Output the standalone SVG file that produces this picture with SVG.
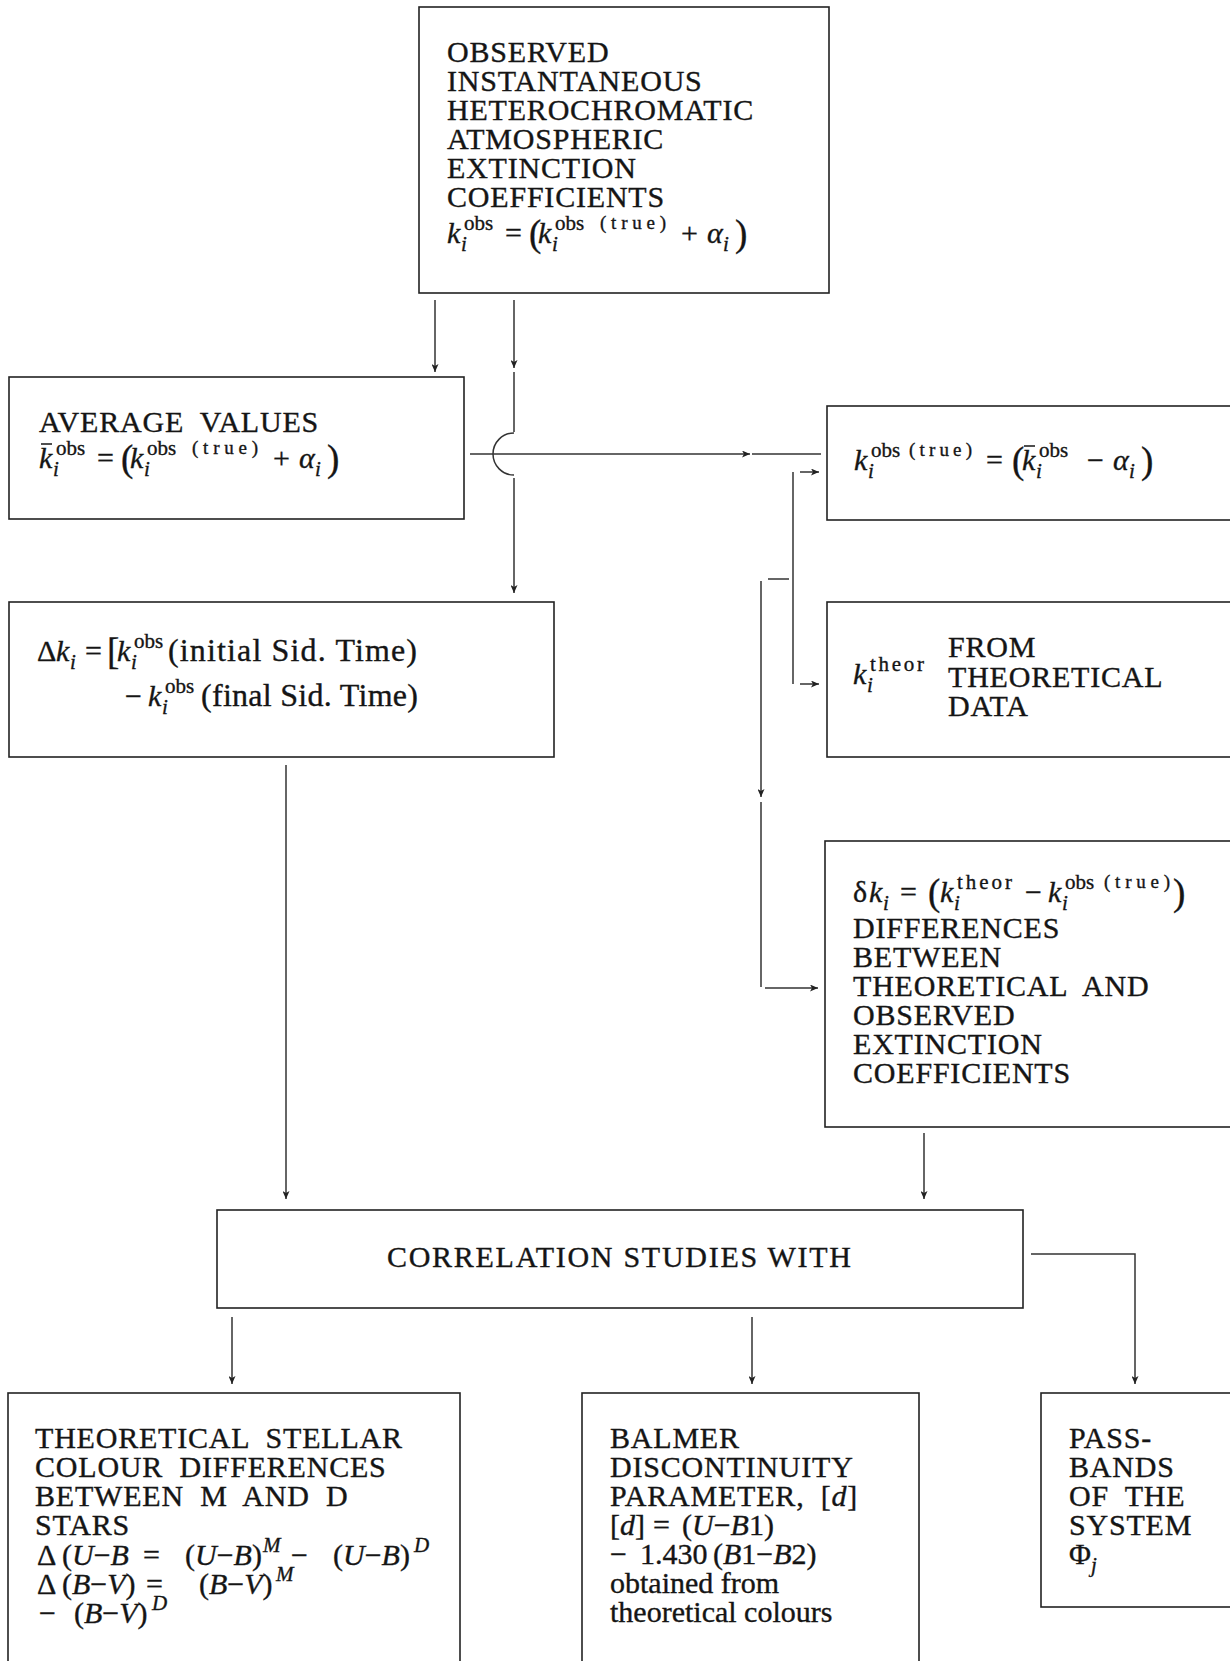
<svg xmlns="http://www.w3.org/2000/svg" width="1230" height="1661" viewBox="0 0 1230 1661">
<style>
.t{font-family:"Liberation Serif","Times New Roman",serif;font-size:30px;fill:#151515;stroke:#151515;stroke-width:0.35px}
.c{letter-spacing:0.8px;word-spacing:8px}
.i{font-style:italic}
.s{font-size:21px}
.ss{font-size:19px}
.bp{font-size:37px}
.lg{font-size:32px}
.box{fill:none;stroke:#222;stroke-width:1.6}
.ln{fill:none;stroke:#333;stroke-width:1.5}
.bar{stroke:#151515;stroke-width:1.5}
</style>
<defs>
<marker id="ah" viewBox="0 0 8 7" refX="8" refY="3.5" markerWidth="8" markerHeight="7" markerUnits="userSpaceOnUse" orient="auto">
<path d="M0,0 L8,3.5 L0,7 L2,3.5 z" fill="#222"/>
</marker>
</defs>
<rect width="1230" height="1661" fill="#fff"/>

<g id="connectors">
<line class="ln" x1="435" y1="300" x2="435" y2="372" marker-end="url(#ah)"/>
<line class="ln" x1="514" y1="300" x2="514" y2="368" marker-end="url(#ah)"/>
<line class="ln" x1="514" y1="372" x2="514" y2="432"/>
<path class="ln" d="M514,433 A21,21 0 0 0 514,475"/>
<line class="ln" x1="514" y1="478" x2="514" y2="593" marker-end="url(#ah)"/>
<line class="ln" x1="470" y1="454" x2="750" y2="454" marker-end="url(#ah)"/>
<line class="ln" x1="752" y1="454" x2="821" y2="454"/>
<line class="ln" x1="793" y1="472" x2="793" y2="684"/>
<line class="ln" x1="800" y1="472" x2="819" y2="472" marker-end="url(#ah)"/>
<line class="ln" x1="800" y1="684" x2="819" y2="684" marker-end="url(#ah)"/>
<line class="ln" x1="768" y1="579" x2="789" y2="579"/>
<line class="ln" x1="761" y1="581" x2="761" y2="797" marker-end="url(#ah)"/>
<line class="ln" x1="761" y1="802" x2="761" y2="987"/>
<line class="ln" x1="765" y1="988" x2="818" y2="988" marker-end="url(#ah)"/>
<line class="ln" x1="286" y1="765" x2="286" y2="1199" marker-end="url(#ah)"/>
<line class="ln" x1="924" y1="1133" x2="924" y2="1199" marker-end="url(#ah)"/>
<path class="ln" d="M1031,1254 H1135 V1384" marker-end="url(#ah)"/>
<line class="ln" x1="232" y1="1317" x2="232" y2="1384" marker-end="url(#ah)"/>
<line class="ln" x1="752" y1="1317" x2="752" y2="1384" marker-end="url(#ah)"/>
</g>

<g id="observed">
<rect class="box" x="419" y="7" width="410" height="286"/>
<text class="t c" x="447" y="62">OBSERVED</text>
<text class="t c" x="447" y="91">INSTANTANEOUS</text>
<text class="t c" x="447" y="120">HETEROCHROMATIC</text>
<text class="t c" x="447" y="149">ATMOSPHERIC</text>
<text class="t c" x="447" y="178">EXTINCTION</text>
<text class="t c" x="447" y="207">COEFFICIENTS</text>
<text class="t"><tspan class="i" x="447" y="243">k</tspan><tspan class="s i" x="461" y="251">i</tspan><tspan class="s" x="464" y="230">obs</tspan><tspan x="505" y="243">=</tspan><tspan class="bp" x="529" y="246">(</tspan><tspan class="i" x="538" y="243">k</tspan><tspan class="s i" x="552" y="251">i</tspan><tspan class="s" x="555" y="230">obs</tspan><tspan class="ss" x="600" y="229" textLength="66">(true)</tspan><tspan x="681" y="243">+</tspan><tspan class="i" x="707" y="243">α</tspan><tspan class="s i" x="723" y="251">i</tspan><tspan class="bp" x="735" y="246">)</tspan></text>
</g>

<g id="average">
<rect class="box" x="9" y="377" width="455" height="142"/>
<text class="t c" x="39" y="432">AVERAGE VALUES</text>
<line class="bar" x1="41" y1="444" x2="52" y2="444"/>
<text class="t"><tspan class="i" x="39" y="468">k</tspan><tspan class="s i" x="53" y="476">i</tspan><tspan class="s" x="56" y="455">obs</tspan><tspan x="97" y="468">=</tspan><tspan class="bp" x="121" y="471">(</tspan><tspan class="i" x="130" y="468">k</tspan><tspan class="s i" x="144" y="476">i</tspan><tspan class="s" x="147" y="455">obs</tspan><tspan class="ss" x="192" y="454" textLength="66">(true)</tspan><tspan x="273" y="468">+</tspan><tspan class="i" x="299" y="468">α</tspan><tspan class="s i" x="315" y="476">i</tspan><tspan class="bp" x="327" y="471">)</tspan></text>
</g>

<g id="ktrue">
<rect class="box" x="827" y="406" width="420" height="114"/>
<line class="bar" x1="1024" y1="446" x2="1035" y2="446"/>
<text class="t"><tspan class="i" x="854" y="470">k</tspan><tspan class="s i" x="868" y="478">i</tspan><tspan class="s" x="871" y="457">obs</tspan><tspan class="ss" x="909" y="456" textLength="63">(true)</tspan><tspan x="986" y="470">=</tspan><tspan class="bp" x="1012" y="473">(</tspan><tspan class="i" x="1022" y="470">k</tspan><tspan class="s i" x="1036" y="478">i</tspan><tspan class="s" x="1039" y="457">obs</tspan><tspan x="1087" y="470">−</tspan><tspan class="i" x="1113" y="470">α</tspan><tspan class="s i" x="1129" y="478">i</tspan><tspan class="bp" x="1141" y="473">)</tspan></text>
</g>

<g id="deltak">
<rect class="box" x="9" y="602" width="545" height="155"/>
<text class="t"><tspan x="37" y="661">Δ</tspan><tspan class="i" x="56" y="661">k</tspan><tspan class="s i" x="70" y="669">i</tspan><tspan x="85" y="661">=</tspan><tspan class="bp" x="107" y="664">[</tspan><tspan class="i" x="117" y="661">k</tspan><tspan class="s i" x="131" y="669">i</tspan><tspan class="s" x="134" y="648">obs</tspan></text>
<text class="t lg" x="168" y="661" textLength="249" lengthAdjust="spacing">(initial Sid. Time)</text>
<text class="t"><tspan x="125" y="706">−</tspan><tspan class="i" x="148" y="706">k</tspan><tspan class="s i" x="162" y="714">i</tspan><tspan class="s" x="165" y="693">obs</tspan></text>
<text class="t lg" x="201" y="706" textLength="217" lengthAdjust="spacing">(final Sid. Time)</text>
</g>

<g id="ktheor">
<rect class="box" x="827" y="602" width="420" height="155"/>
<text class="t"><tspan class="i" x="853" y="684">k</tspan><tspan class="s i" x="867" y="692">i</tspan><tspan class="s" x="870" y="671" textLength="54">theor</tspan></text>
<text class="t c" x="948" y="657">FROM</text>
<text class="t c" x="948" y="687">THEORETICAL</text>
<text class="t c" x="948" y="716">DATA</text>
</g>

<g id="deltadiff">
<rect class="box" x="825" y="841" width="420" height="286"/>
<text class="t"><tspan x="853" y="902">δ</tspan><tspan class="i" x="869" y="902">k</tspan><tspan class="s i" x="883" y="910">i</tspan><tspan x="900" y="902">=</tspan><tspan class="bp" x="928" y="905">(</tspan><tspan class="i" x="940" y="902">k</tspan><tspan class="s i" x="954" y="910">i</tspan><tspan class="s" x="957" y="889" textLength="55">theor</tspan><tspan x="1025" y="902">−</tspan><tspan class="i" x="1048" y="902">k</tspan><tspan class="s i" x="1062" y="910">i</tspan><tspan class="s" x="1065" y="889">obs</tspan><tspan class="ss" x="1104" y="888" textLength="66">(true)</tspan><tspan class="bp" x="1173" y="905">)</tspan></text>
<text class="t c" x="853" y="938">DIFFERENCES</text>
<text class="t c" x="853" y="967">BETWEEN</text>
<text class="t c" x="853" y="996">THEORETICAL AND</text>
<text class="t c" x="853" y="1025">OBSERVED</text>
<text class="t c" x="853" y="1054">EXTINCTION</text>
<text class="t c" x="853" y="1083">COEFFICIENTS</text>
</g>

<g id="correlation">
<rect class="box" x="217" y="1210" width="806" height="98"/>
<text class="t" x="387" y="1267" textLength="464">CORRELATION STUDIES WITH</text>
</g>

<g id="colour">
<rect class="box" x="8" y="1393" width="452" height="300"/>
<text class="t c" x="35" y="1448">THEORETICAL STELLAR</text>
<text class="t c" x="35" y="1477">COLOUR DIFFERENCES</text>
<text class="t c" x="35" y="1506">BETWEEN M AND D</text>
<text class="t c" x="35" y="1535">STARS</text>
<text class="t"><tspan x="37" y="1565">Δ</tspan><tspan x="62" y="1565">(</tspan><tspan class="i">U</tspan><tspan>−</tspan><tspan class="i">B</tspan><tspan x="143" y="1565">=</tspan><tspan x="185" y="1565">(</tspan><tspan class="i">U</tspan><tspan>−</tspan><tspan class="i">B</tspan><tspan>)</tspan><tspan class="s i" x="263" y="1552">M</tspan><tspan x="291" y="1565">−</tspan><tspan x="333" y="1565">(</tspan><tspan class="i">U</tspan><tspan>−</tspan><tspan class="i">B</tspan><tspan>)</tspan><tspan class="s i" x="414" y="1552">D</tspan></text>
<text class="t"><tspan x="37" y="1594">Δ</tspan><tspan x="62" y="1594">(</tspan><tspan class="i">B</tspan><tspan>−</tspan><tspan class="i">V</tspan><tspan>)</tspan><tspan x="146" y="1594">=</tspan><tspan x="199" y="1594">(</tspan><tspan class="i">B</tspan><tspan>−</tspan><tspan class="i">V</tspan><tspan>)</tspan><tspan class="s i" x="276" y="1581">M</tspan></text>
<text class="t"><tspan x="39" y="1623">−</tspan><tspan x="74" y="1623">(</tspan><tspan class="i">B</tspan><tspan>−</tspan><tspan class="i">V</tspan><tspan>)</tspan><tspan class="s i" x="152" y="1610">D</tspan></text>
</g>

<g id="balmer">
<rect class="box" x="582" y="1393" width="337" height="300"/>
<text class="t c" x="610" y="1448">BALMER</text>
<text class="t c" x="610" y="1477">DISCONTINUITY</text>
<text class="t c" x="610" y="1506">PARAMETER, [<tspan class="i">d</tspan>]</text>
<text class="t"><tspan x="610" y="1535">[</tspan><tspan class="i">d</tspan><tspan>]</tspan><tspan x="653" y="1535">=</tspan><tspan x="682" y="1535">(</tspan><tspan class="i">U</tspan><tspan>−</tspan><tspan class="i">B</tspan><tspan>1)</tspan></text>
<text class="t"><tspan x="610" y="1564">−</tspan><tspan x="640" y="1564">1.430</tspan><tspan x="713" y="1564">(</tspan><tspan class="i">B</tspan><tspan>1−</tspan><tspan class="i">B</tspan><tspan>2)</tspan></text>
<text class="t" x="610" y="1593">obtained from</text>
<text class="t" x="610" y="1622">theoretical colours</text>
</g>

<g id="passbands">
<rect class="box" x="1041" y="1393" width="200" height="214"/>
<text class="t c" x="1069" y="1448">PASS-</text>
<text class="t c" x="1069" y="1477">BANDS</text>
<text class="t c" x="1069" y="1506">OF THE</text>
<text class="t c" x="1069" y="1535">SYSTEM</text>
<text class="t"><tspan x="1069" y="1564">Φ</tspan><tspan class="s i" dy="8">j</tspan></text>
</g>
</svg>
